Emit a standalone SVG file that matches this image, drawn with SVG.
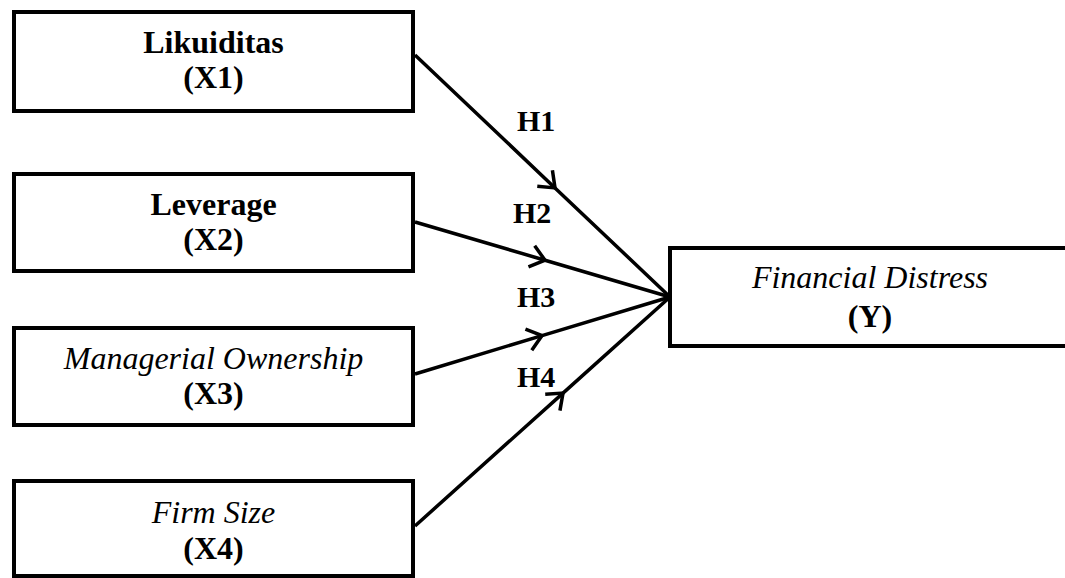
<svg xmlns="http://www.w3.org/2000/svg" width="1065" height="578" viewBox="0 0 1065 578">
<defs>
<style>
.box{fill:#fff;stroke:#000;stroke-width:4}
.t{font-family:"Liberation Serif","Times New Roman",serif;font-size:32px;fill:#000;text-anchor:middle}
.b{font-weight:bold}
.i{font-style:italic}
.h{font-family:"Liberation Serif","Times New Roman",serif;font-size:30px;font-weight:bold;fill:#000}
.c{fill:none;stroke:#000;stroke-width:3.5;marker-mid:url(#arr)}
</style>
<marker id="arr" markerUnits="userSpaceOnUse" orient="auto" markerWidth="40" markerHeight="40" viewBox="-20 -20 40 40" refX="0" refY="0" overflow="visible">
<path d="M-14,-11 L0,0 L-14,11" fill="none" stroke="#000" stroke-width="3.5" stroke-linejoin="miter"/>
</marker>
</defs>
<rect width="1065" height="578" fill="#fff"/>
<g id="connectors">
<path class="c" d="M415,55 L555,187.9 L670,297"/>
<path class="c" d="M415,222 L545,260.2 L670,297"/>
<path class="c" d="M415,374 L542,335.6 L670,297"/>
<path class="c" d="M415,526 L563,393.1 L670,297"/>
<text class="h" x="517" y="131">H1</text>
<text class="h" x="513" y="223">H2</text>
<text class="h" x="517" y="307">H3</text>
<text class="h" x="517" y="387">H4</text>
</g>
<g id="x1">
<rect class="box" x="14" y="12" width="399" height="99"/>
<text class="t b" x="213.5" y="53">Likuiditas</text>
<text class="t b" x="213.5" y="88">(X1)</text>
</g>
<g id="x2">
<rect class="box" x="14" y="174" width="399" height="97"/>
<text class="t b" x="213.5" y="215">Leverage</text>
<text class="t b" x="213.5" y="250">(X2)</text>
</g>
<g id="x3">
<rect class="box" x="14" y="328" width="399" height="97"/>
<text class="t i" x="213.5" y="369">Managerial Ownership</text>
<text class="t b" x="213.5" y="404">(X3)</text>
</g>
<g id="x4">
<rect class="box" x="14" y="481" width="399" height="95"/>
<text class="t i" x="213.5" y="523">Firm Size</text>
<text class="t b" x="213.5" y="559">(X4)</text>
</g>
<g id="y">
<rect class="box" x="670" y="248" width="420" height="98"/>
<text class="t i" x="870" y="288">Financial Distress</text>
<text class="t b" x="870" y="327">(Y)</text>
</g>
</svg>
